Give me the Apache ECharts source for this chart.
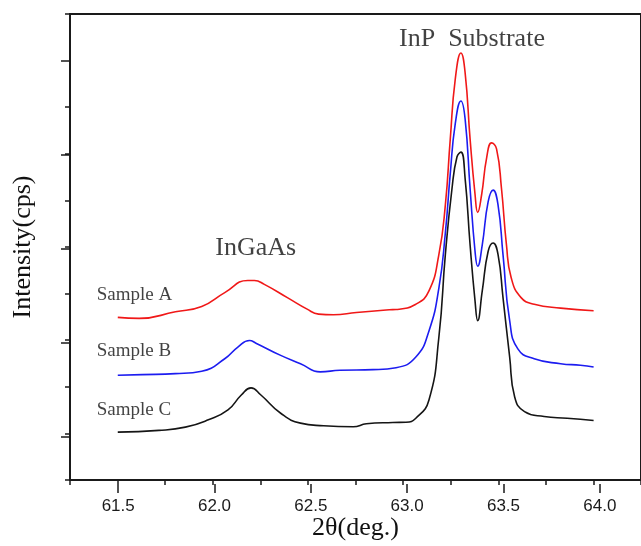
<!DOCTYPE html>
<html>
<head>
<meta charset="utf-8">
<script src="https://cdn.jsdelivr.net/npm/echarts@6/dist/echarts.min.js"></script>
<style>
  html, body { margin: 0; padding: 0; background: #fff; }
  #chart { width: 641px; height: 546px; }
</style>
</head>
<body>
<div id="chart"></div>
<script>
// ---- data (2θ in degrees, intensity in arbitrary offset units) ----
var thetaA = [61.501, 61.613, 61.804, 61.942, 62.063, 62.184, 62.219, 62.271, 62.392, 62.496, 62.556, 62.634, 62.755, 62.928, 62.963, 63.067, 63.136, 63.188, 63.222, 63.248, 63.274, 63.304, 63.326, 63.352, 63.378, 63.392, 63.413, 63.439, 63.465, 63.491, 63.517, 63.543, 63.568, 63.620, 63.689, 63.828, 64.001];
var intensityA = [1.245, 1.234, 1.305, 1.362, 1.511, 1.641, 1.641, 1.599, 1.457, 1.333, 1.280, 1.273, 1.298, 1.327, 1.330, 1.386, 1.529, 1.918, 2.450, 3.160, 3.798, 4.082, 3.869, 3.160, 2.566, 2.372, 2.566, 2.957, 3.117, 3.053, 2.628, 2.025, 1.670, 1.457, 1.386, 1.344, 1.316];

var thetaB = [61.501, 61.630, 61.804, 61.942, 62.063, 62.132, 62.193, 62.227, 62.357, 62.461, 62.565, 62.668, 62.842, 62.963, 63.067, 63.136, 63.188, 63.222, 63.248, 63.274, 63.304, 63.326, 63.352, 63.378, 63.392, 63.416, 63.447, 63.473, 63.499, 63.525, 63.560, 63.603, 63.689, 63.828, 63.932, 64.001];
var intensityB = [0.624, 0.631, 0.641, 0.667, 0.801, 0.926, 0.997, 0.968, 0.837, 0.748, 0.660, 0.678, 0.684, 0.705, 0.819, 1.100, 1.560, 2.150, 2.790, 3.320, 3.567, 3.372, 2.628, 1.954, 1.795, 2.024, 2.486, 2.610, 2.450, 1.918, 1.210, 0.907, 0.801, 0.748, 0.731, 0.713];

var thetaC = [61.501, 61.717, 61.856, 61.977, 62.080, 62.150, 62.201, 62.253, 62.357, 62.461, 62.582, 62.738, 62.807, 62.946, 63.015, 63.067, 63.136, 63.188, 63.222, 63.257, 63.283, 63.304, 63.326, 63.352, 63.378, 63.392, 63.416, 63.447, 63.473, 63.499, 63.525, 63.560, 63.586, 63.638, 63.741, 63.862, 64.001];
var intensityC = [0.014, 0.032, 0.067, 0.146, 0.252, 0.412, 0.489, 0.412, 0.216, 0.110, 0.082, 0.071, 0.103, 0.117, 0.120, 0.163, 0.359, 1.032, 1.918, 2.628, 2.965, 3.018, 2.734, 2.024, 1.422, 1.210, 1.529, 1.954, 2.043, 1.918, 1.457, 0.819, 0.394, 0.234, 0.181, 0.163, 0.138];

var seriesNames = ['Sample A', 'Sample B', 'Sample C'];
var seriesColors = ['#f01818', '#1c1cf0', '#151515'];

// annotation texts and their anchor positions (data coordinates)
var peakLabels = ['InGaAs', 'InP  Substrate'];
var peakLabelTheta = [62.226, 63.362];
var peakLabelY = [1.99, 4.234];
var sampleLabelTheta = [61.390, 61.390, 61.390];
var sampleLabelY = [1.489, 0.883, 0.255];

var xTickLabels = ['61.5', '62.0', '62.5', '63.0', '63.5', '64.0'];

// ---- build ----
function zip(xs, ys) { return xs.map(function (x, i) { return [x, ys[i]]; }); }
var allTheta = [thetaA, thetaB, thetaC];
var allI = [intensityA, intensityB, intensityC];

var lineSeries = seriesNames.map(function (n, i) {
  return {
    name: n, type: 'line', xAxisIndex: 0, yAxisIndex: 0,
    data: zip(allTheta[i], allI[i]),
    showSymbol: false, symbol: 'none',
    smooth: 0.5,
    lineStyle: { color: seriesColors[i], width: 1.6 },
    itemStyle: { color: seriesColors[i] },
    z: 3 - i
  };
});

var annData = [];
peakLabels.forEach(function (t, i) {
  annData.push({ name: t, value: [peakLabelTheta[i], peakLabelY[i]],
    label: { position: 'inside', fontSize: 26 } });
});
seriesNames.forEach(function (t, i) {
  annData.push({ name: t, value: [sampleLabelTheta[i], sampleLabelY[i]],
    label: { position: 'right', distance: 0, fontSize: 19 } });
});

var annSeries = {
  type: 'scatter', xAxisIndex: 0, yAxisIndex: 0,
  symbolSize: 0, silent: true, z: 10,
  data: annData,
  label: {
    show: true, formatter: '{b}', color: '#111111',
    fontFamily: 'Liberation Serif'
  }
};

var axisCol = '#1a1a1a';
var chart = echarts.init(document.getElementById('chart'), null, { renderer: 'canvas' });
chart.setOption({
  animation: false,
  backgroundColor: '#ffffff',
  grid: [
    { left: 70, right: -7, top: 14, bottom: 62, show: true, borderColor: axisCol, borderWidth: 2, backgroundColor: 'transparent' },
    { left: 118.17, right: 41.17, top: 61, bottom: 109 }
  ],
  xAxis: [
    {
      gridIndex: 0, type: 'value', min: 61.25, max: 64.25, interval: 0.25,
      axisLine: { show: true, onZero: false, lineStyle: { color: axisCol, width: 2 } },
      axisTick: { show: true, length: 5, lineStyle: { color: axisCol, width: 1.5 } },
      axisLabel: { show: false },
      splitLine: { show: false },
      name: '2θ(deg.)', nameLocation: 'middle', nameGap: 35,
      nameTextStyle: { fontFamily: 'Liberation Serif', fontSize: 26, color: '#111111' }
    },
    {
      gridIndex: 1, type: 'value', min: 61.5, max: 64.0, interval: 0.5, offset: 47,
      axisLine: { show: false, onZero: false },
      axisTick: { show: true, length: 9, lineStyle: { color: axisCol, width: 1.5 } },
      axisLabel: {
        show: true, margin: 14, fontSize: 17, fontFamily: 'Liberation Sans', color: '#1a1a1a',
        formatter: function (v) {
          var idx = Math.round((v - 61.5) / 0.5);
          return xTickLabels[idx] || '';
        }
      },
      splitLine: { show: false }
    }
  ],
  yAxis: [
    {
      gridIndex: 0, type: 'value', min: -0.5, max: 4.5, interval: 0.5,
      axisLine: { show: true, onZero: false, lineStyle: { color: axisCol, width: 2 } },
      axisTick: { show: true, length: 5, lineStyle: { color: axisCol, width: 1.5 } },
      axisLabel: { show: false },
      splitLine: { show: false },
      name: 'Intensity(cps)', nameLocation: 'middle', nameGap: 34,
      nameTextStyle: { fontFamily: 'Liberation Serif', fontSize: 26, color: '#111111' }
    },
    {
      gridIndex: 1, type: 'value', min: 0, max: 4, interval: 1, offset: 48.17,
      axisLine: { show: false, onZero: false },
      axisTick: { show: true, length: 9, lineStyle: { color: axisCol, width: 1.5 } },
      axisLabel: { show: false },
      splitLine: { show: false }
    }
  ],
  series: lineSeries.concat([annSeries])
});
</script>
</body>
</html>
